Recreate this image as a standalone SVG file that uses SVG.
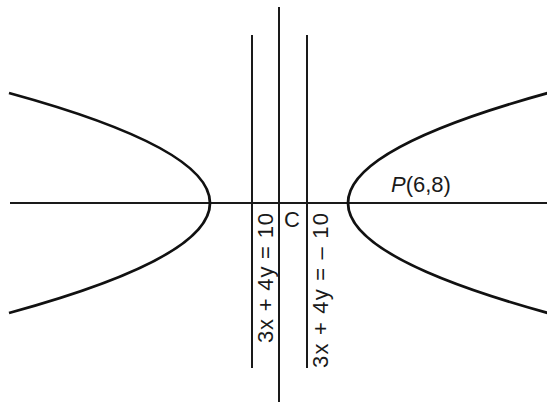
<svg xmlns="http://www.w3.org/2000/svg" width="547" height="405" viewBox="0 0 547 405">
<style>
.ln{stroke:#1a1a1a;stroke-width:2;fill:none}
.cv{stroke:#111;stroke-width:2.8;fill:none}
.t{font-family:"Liberation Sans",Arial,sans-serif;font-size:22px;fill:#1a1a1a}
</style>
<rect width="547" height="405" fill="#fff"/>
<g id="axes">
<line class="ln" x1="10" y1="203" x2="547" y2="203"/>
<line class="ln" x1="279" y1="7" x2="279" y2="402"/>
</g>
<g id="directrices">
<line class="ln" x1="252" y1="35" x2="252" y2="368"/>
<line class="ln" x1="307" y1="35" x2="307" y2="368"/>
</g>
<g id="left-branch">
<path class="cv" d="M9,93 Q411,203 9,313"/>
</g>
<g id="right-branch">
<path class="cv" d="M548,93 Q148,203 548,313"/>
</g>
<g id="labels">
<text class="t" transform="translate(273,343) rotate(-90)" textLength="130" lengthAdjust="spacing">3x + 4y = 10</text>
<text class="t" transform="translate(328,368) rotate(-90)" textLength="155" lengthAdjust="spacing">3x + 4y = – 10</text>
<text class="t" x="284" y="227" font-size="20">C</text>
<text class="t" x="391" y="192"><tspan font-style="italic">P</tspan>(6,8)</text>
</g>
</svg>
